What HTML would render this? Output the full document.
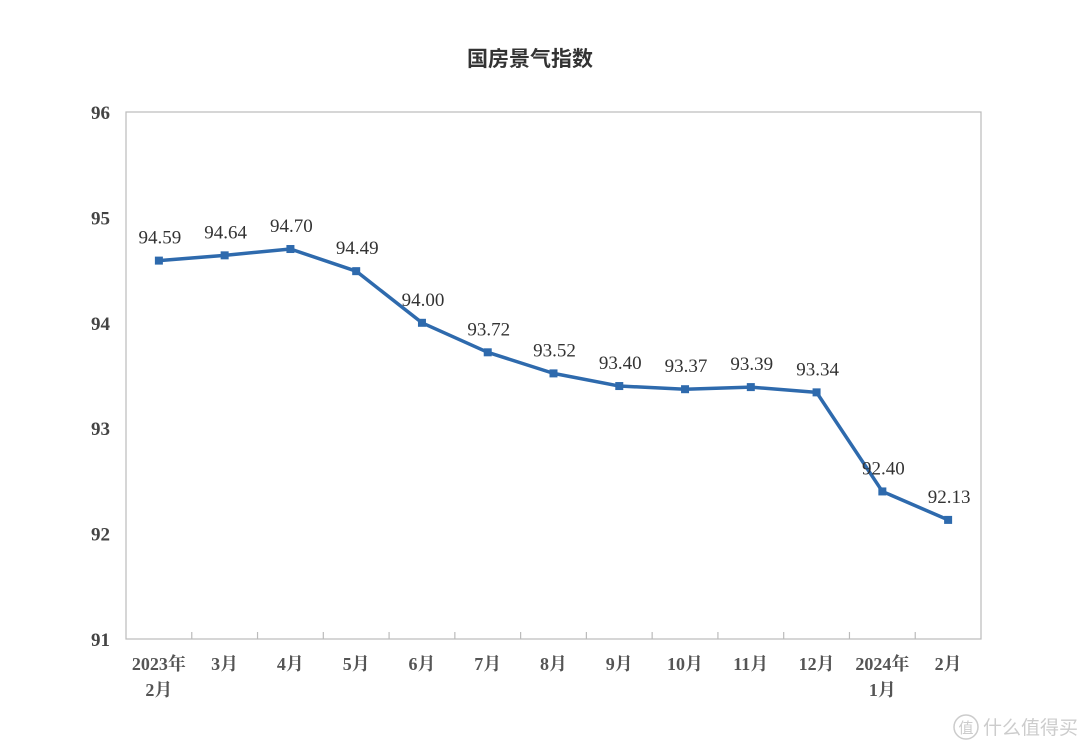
<!DOCTYPE html>
<html><head><meta charset="utf-8"><style>
body{margin:0;background:#fff;}
svg{display:block;font-family:"Liberation Serif","Noto Serif CJK SC",serif;}
</style></head><body>
<svg id="chart" width="1080" height="750">
<text x="530" y="66" text-anchor="middle" font-size="21" font-weight="bold" fill="#333" font-family="'Noto Sans CJK SC',sans-serif">国房景气指数</text>
<rect x="126" y="112" width="855" height="527" fill="none" stroke="#bbb" stroke-width="1.2"/>
<g id="yaxis"></g>
<g id="xaxis"></g>
<g id="series"></g>
<g>
<circle cx="966" cy="727" r="12" fill="none" stroke="#ccc" stroke-width="1.5"/>
<text x="966" y="733" text-anchor="middle" font-size="15" fill="#ccc" font-family="'Noto Sans CJK SC',sans-serif">值</text>
<text x="983" y="734" font-size="19" fill="#ccc" font-family="'Noto Sans CJK SC',sans-serif">什么值得买</text>
</g>
</svg>
<script>
const categories=[["2023年","2月"],["3月"],["4月"],["5月"],["6月"],["7月"],["8月"],["9月"],["10月"],["11月"],["12月"],["2024年","1月"],["2月"]];
const values=[94.59,94.64,94.70,94.49,94.00,93.72,93.52,93.40,93.37,93.39,93.34,92.40,92.13];
const yTicks=[91,92,93,94,95,96];
const NS="http://www.w3.org/2000/svg";
const L=126,R=981,T=112,B=639,ymin=91,ymax=96;
const bw=(R-L)/categories.length;
const xPos=i=>L+bw*(i+0.5);
const yPos=v=>B-(v-ymin)/(ymax-ymin)*(B-T);
function mk(tag,attrs,parent,txt){const e=document.createElementNS(NS,tag);for(const k in attrs)e.setAttribute(k,attrs[k]);if(txt!==undefined)e.textContent=txt;parent.appendChild(e);return e;}
const ya=document.getElementById('yaxis');
yTicks.forEach(v=>{const t=mk('text',{x:110,y:yPos(v)+7,'text-anchor':'end','font-size':19,'font-weight':'bold',fill:'#444'},ya,String(v));

});
const xa=document.getElementById('xaxis');
categories.forEach((c,i)=>{
 if(i>0){const tk=mk('line',{x1:L+bw*i,x2:L+bw*i,y1:B,y2:B-7,stroke:'#bbb','stroke-width':1.2},xa);
 
 }
 c.forEach((s,j)=>{const t=mk('text',{x:xPos(i),y:670+j*26,'text-anchor':'middle','font-size':18,'font-weight':'bold',fill:'#555'},xa,s);
 
 });
});
const sg=document.getElementById('series');
const pl=mk('polyline',{points:values.map((v,i)=>xPos(i)+','+yPos(v)).join(' '),fill:'none',stroke:'#2e6aad','stroke-width':3.5,'stroke-linejoin':'round'},sg);


values.forEach((v,i)=>{
 const m=mk('rect',{x:xPos(i)-4,y:yPos(v)-4,width:8,height:8,fill:'#2e6aad'},sg);
 
 
 const t=mk('text',{x:xPos(i)+1,y:yPos(v)-17,'text-anchor':'middle','font-size':19,fill:'#333'},sg,v.toFixed(2));
 
 
});
</script>
</body></html>
